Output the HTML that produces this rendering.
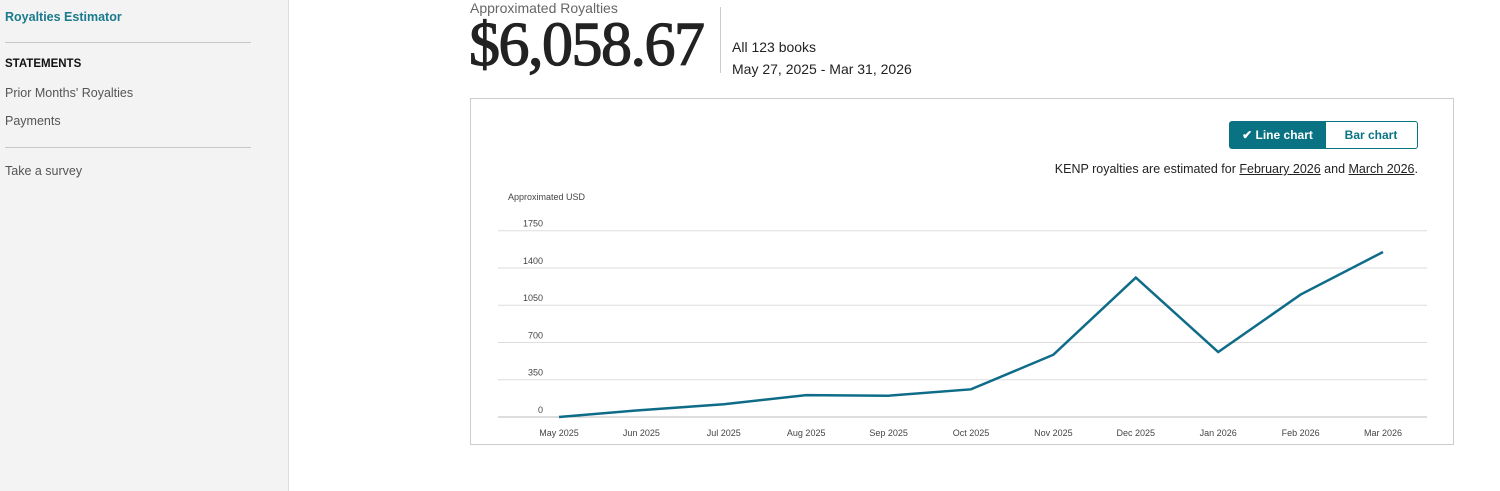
<!DOCTYPE html>
<html><head><meta charset="utf-8">
<style>
body{margin:0;width:1500px;height:491px;background:#fff;font-family:"Liberation Sans",sans-serif;position:relative;overflow:hidden}
.side{position:absolute;left:0;top:0;width:288px;height:491px;background:#f3f3f3;border-right:1px solid #ddd}
.side div{position:absolute;left:5px;font-size:12.5px;color:#555}
.hr{position:absolute;left:5px;width:246px;height:1px;background:#c8c8c8}
.a{position:absolute}
</style></head><body>
<div class="side">
<div style="top:10px;color:#1a7b8c;font-weight:bold">Royalties Estimator</div>
<span class="hr" style="top:42px"></span>
<div style="top:58px;color:#111;font-weight:bold;font-size:11.5px">STATEMENTS</div>
<div style="top:86px">Prior Months' Royalties</div>
<div style="top:114px">Payments</div>
<span class="hr" style="top:147px"></span>
<div style="top:164px">Take a survey</div>
</div>
<div class="a" style="left:470px;top:0;font-size:14px;color:#666">Approximated Royalties</div>
<div class="a" style="left:469px;top:10px;font-family:'Liberation Serif',serif;font-size:62px;color:#222;letter-spacing:-1.5px;-webkit-text-stroke:1.2px #222">$6,058.67</div>
<div class="a" style="left:720px;top:7px;width:1px;height:66px;background:#ccc"></div>
<div class="a" style="left:732px;top:36px;font-size:14px;color:#222;line-height:22px">All 123 books<br>May 27, 2025 - Mar 31, 2026</div>
<div class="a" style="left:470px;top:98px;width:982px;height:345px;border:1px solid #ccc"></div>
<div class="a" style="left:1229px;top:121px;width:95px;height:26px;background:#0a7383;border:1px solid #0a7383;border-radius:3px 0 0 3px;color:#fff;font-size:12px;font-weight:bold;line-height:26px;text-align:center">✔ Line chart</div>
<div class="a" style="left:1324px;top:121px;width:92px;height:26px;border:1px solid #0a7383;border-radius:0 3px 3px 0;color:#0a7383;font-size:12px;font-weight:bold;line-height:26px;text-align:center">Bar chart</div>
<div class="a" style="right:82px;top:162px;font-size:12.5px;color:#222">KENP royalties are estimated for <u>February 2026</u> and <u>March 2026</u>.</div>
<svg class="a" style="left:0;top:0" width="1500" height="491" id="chart"></svg>
<script>
const months=["May 2025","Jun 2025","Jul 2025","Aug 2025","Sep 2025","Oct 2025","Nov 2025","Dec 2025","Jan 2026","Feb 2026","Mar 2026"];
const royalties=[0,65,120,205,200,260,585,1310,610,1150,1550];
const ticks=[0,350,700,1050,1400,1750];
const svg=document.getElementById('chart');const NS='http://www.w3.org/2000/svg';
const y=v=>417-v*(186.3/1750);
const x=i=>559+i*82.4;
function mk(t,a){const e=document.createElementNS(NS,t);for(const k in a)e.setAttribute(k,a[k]);svg.appendChild(e);return e;}
const yt=mk('text',{x:508,y:200,'font-size':9,fill:'#444','font-family':'Liberation Sans'});yt.textContent='Approximated USD';


ticks.forEach(t=>{
const l=mk('line',{x1:498,x2:1427,y1:y(t),y2:y(t),stroke:t?'#ddd':'#bbb','stroke-width':1});


const tx=mk('text',{x:543,y:y(t)-4,'font-size':9,fill:'#444','text-anchor':'end','font-family':'Liberation Sans'});tx.textContent=t;


});
months.forEach((m,i)=>{
const tx=mk('text',{x:x(i),y:436,'font-size':9,fill:'#444','text-anchor':'middle','font-family':'Liberation Sans'});tx.textContent=m;


});
const p=mk('polyline',{points:royalties.map((v,i)=>x(i)+','+y(v)).join(' '),fill:'none',stroke:'#0e6c88','stroke-width':2.5});


</script>
</body></html>
